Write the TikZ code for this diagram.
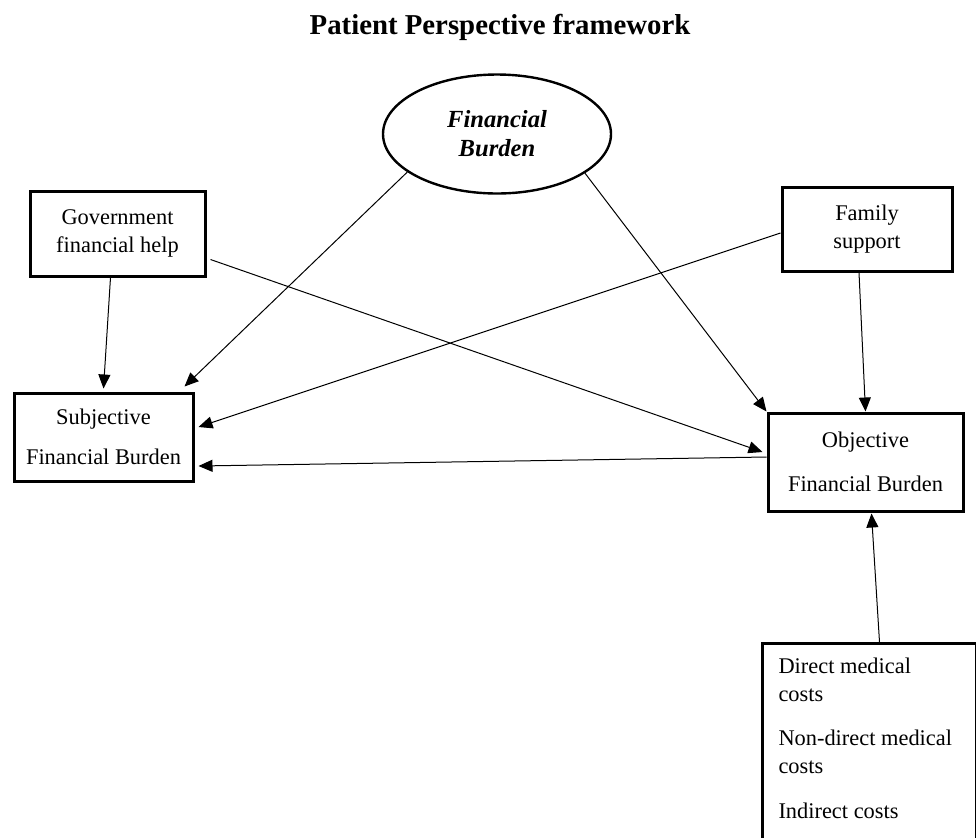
\documentclass[tikz,border=0pt]{standalone}
\usepackage{fontspec}
\setmainfont{Liberation Serif}
\usetikzlibrary{shapes.geometric,arrows.meta,calc}

\tikzset{
  blockbox/.style={draw, line width=1.5pt, inner sep=0pt, align=center, font=\fontsize{11.2}{14}\selectfont},
  link/.style={-{Triangle[length=7pt,width=6pt]}, line width=0.5pt},
}

\begin{document}
\begin{tikzpicture}[x=0.5pt, y=-0.5pt]
    \useasboundingbox (0,0) rectangle (976,837);

    % Title
    \node[anchor=base, font=\fontsize{14.4}{17}\selectfont\bfseries] (title) at (500,34) {Patient Perspective framework};

    % Nodes
    \node[ellipse, draw, line width=1.2pt, minimum width=114pt, minimum height=59.5pt, inner sep=0pt, align=center, font=\fontsize{12.3}{14.5}\selectfont\bfseries\itshape] (fb) at (497,134) {Financial\\Burden};
    \node[blockbox, minimum width=87.5pt, minimum height=42.5pt] (gov) at (117.5,233.5) {Government\\financial help};
    \node[blockbox, minimum width=85pt, minimum height=42pt] (fam) at (867,229) {Family\\support};
    \node[blockbox, minimum width=89.5pt, minimum height=44pt] (sub) at (103.5,437) {Subjective\\[6pt]Financial Burden};
    \node[blockbox, minimum width=97.5pt, minimum height=49pt] (obj) at (865.5,462) {Objective\\[8pt]Financial Burden};
    \node[draw, line width=1.5pt, anchor=north west, inner xsep=8pt, inner ysep=7pt, font=\fontsize{11.2}{14}\selectfont] (costs) at (761,642)
        {\parbox[t][100pt][t]{91pt}{\raggedright Direct medical\\costs\\[8pt]Non-direct medical\\costs\\[8.5pt]Indirect costs}};

    % Arrows
    \draw[link] (fb.203) -- ($(sub.north east)+(-10,-5)$);
    \draw[link] (fb.336) -- (obj.north west);
    \draw[link] ($(gov.south)+(-7,0)$) -- ($(sub.north)+(0,-3)$);
    \draw[link] ($(gov.east)+(4,26)$) -- ($(obj.west)+(-4,-10)$);
    \draw[link] ($(fam.west)+(0,4)$) -- ($(sub.east)+(4,-10)$);
    \draw[link] ($(fam.south)+(-8,0)$) -- (obj.north);
    \draw[link] ($(obj.west)+(0,-5)$) -- ($(sub.east)+(4,29)$);
    \draw[link] ($(costs.north)+(10,0)$) -- ($(obj.south)+(6,1)$);
\end{tikzpicture}
\end{document}
